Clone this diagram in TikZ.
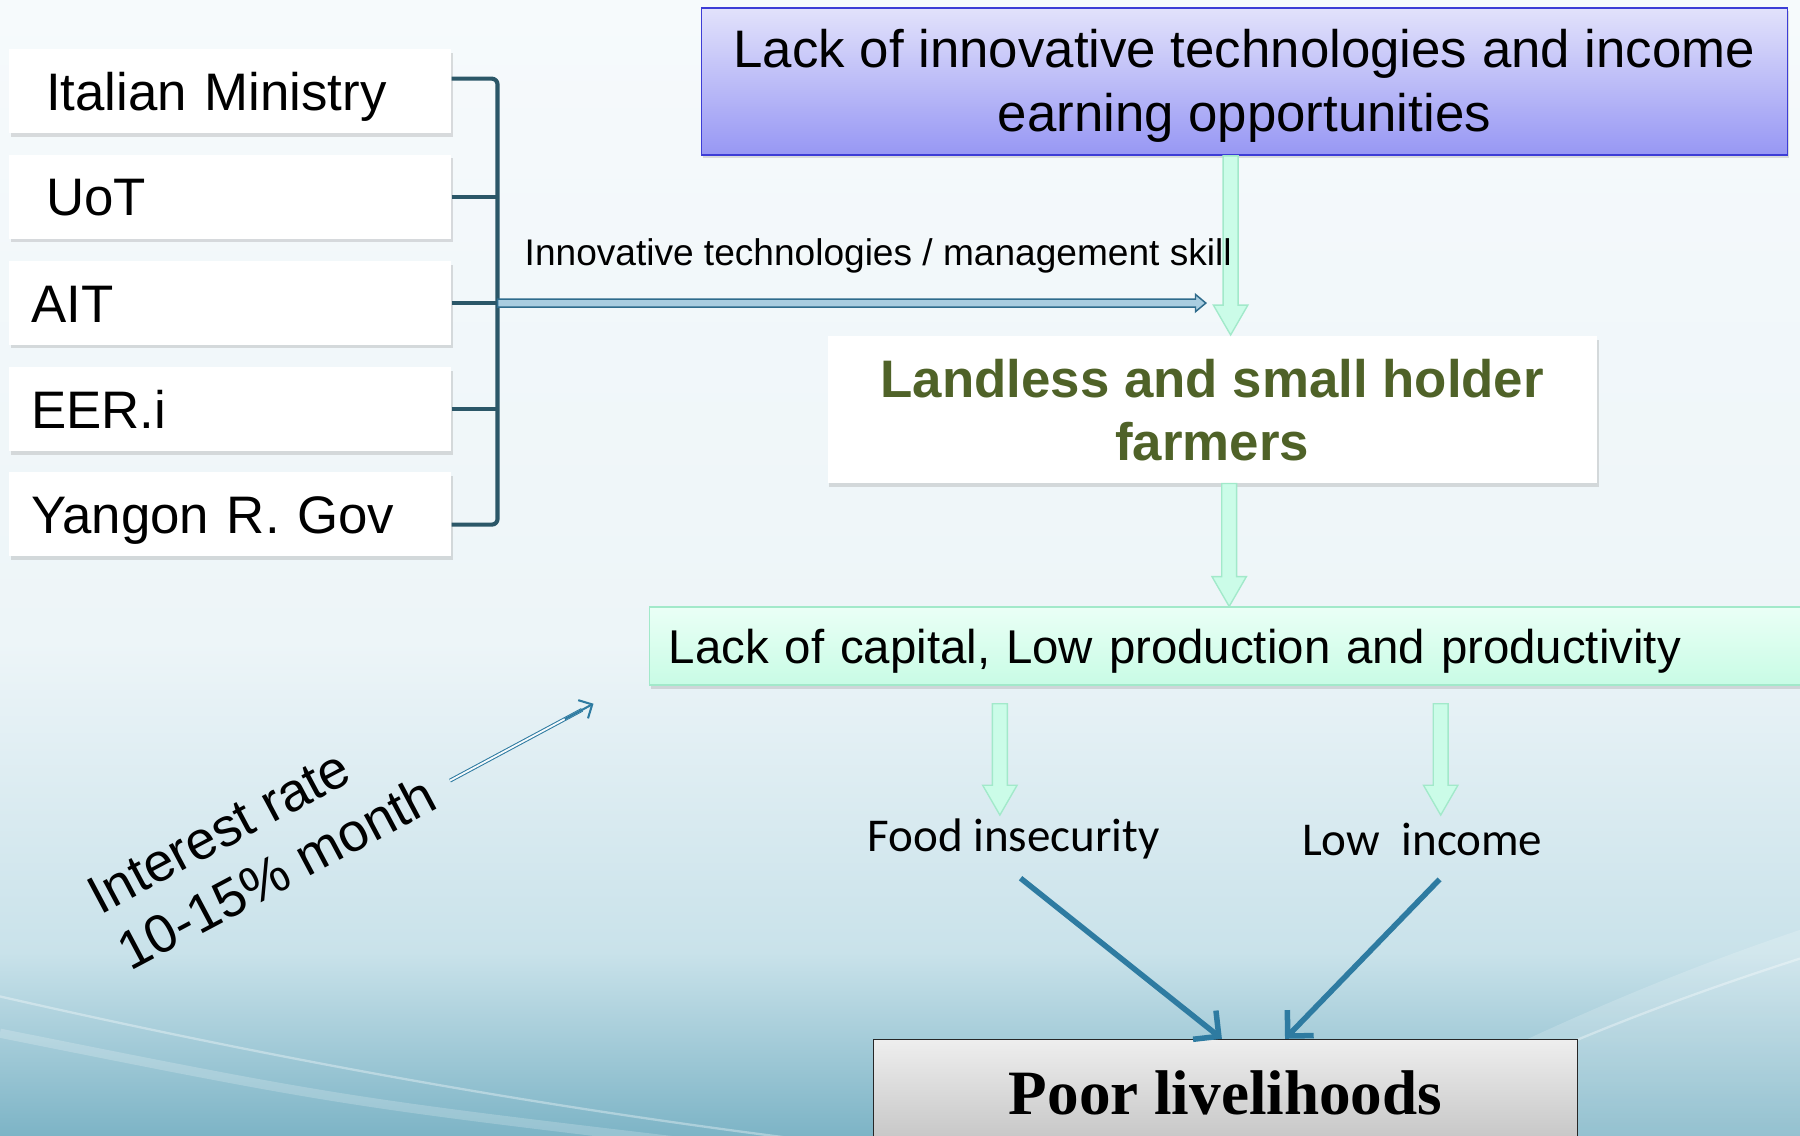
\documentclass[tikz,border=0pt]{standalone}
\usepackage{fontspec}
\setmainfont{Liberation Sans}
\newfontfamily\timesb{Liberation Serif}
\newfontfamily\calib{Carlito}
\usetikzlibrary{arrows.meta,calc,shadows}

\definecolor{bgA}{HTML}{F6FAFC}
\definecolor{bgB}{HTML}{EDF5F8}
\definecolor{bgC}{HTML}{C9E2EA}
\definecolor{bgD}{HTML}{7DB4C6}
\definecolor{lavT}{HTML}{E2E2FB}
\definecolor{lavB}{HTML}{9797F4}
\definecolor{lavD}{HTML}{3D3DD6}
\definecolor{mintT}{HTML}{EAFFF6}
\definecolor{mintB}{HTML}{C8FCE5}
\definecolor{mintD}{HTML}{A2E9CA}
\definecolor{mintF}{HTML}{CBFCE8}
\definecolor{brk}{HTML}{2B5768}
\definecolor{dblD}{HTML}{2F6C8C}
\definecolor{dblL}{HTML}{A9CDE0}
\definecolor{arrB}{HTML}{2E7BA1}
\definecolor{olive}{HTML}{4F6228}
\definecolor{grT}{HTML}{EEEEEE}
\definecolor{grB}{HTML}{C4C4C4}

\newcommand\vblk[2]{\draw[mintarrow] let \p1=(#1), \p2=(#2) in
  (\x1-6.5pt,\y1) -- (\x1+6.5pt,\y1) -- (\x1+6.5pt,\y2+26pt) -- (\x1+15pt,\y2+26pt)
  -- (\x1,\y2) -- (\x1-15pt,\y2+26pt) -- (\x1-6.5pt,\y2+26pt) -- cycle;}
\newcommand\hblk[2]{\draw[dblarrow] let \p1=(#1), \p2=(#2) in
  (\x1,\y1+3.5pt) -- (\x2-9pt,\y1+3.5pt) -- (\x2-9pt,\y1+7.5pt) -- (\x2,\y1)
  -- (\x2-9pt,\y1-7.5pt) -- (\x2-9pt,\y1-3.5pt) -- (\x1,\y1-3.5pt) -- cycle;}

\begin{document}
\begin{tikzpicture}[x=1pt,y=-1pt,
  softshadow/.style={drop shadow={shadow xshift=1.5pt,shadow yshift=-3pt,opacity=.28,fill=black!45}},
  lbox/.style={fill=white, softshadow, minimum width=385pt, minimum height=73pt, anchor=west,
    inner xsep=19pt, text width=347pt, align=left, text height=33pt, text depth=0pt,
    font=\fontsize{46}{54}\selectfont},
  topbox/.style={draw=lavD, line width=1.5pt, top color=lavT, bottom color=lavB, softshadow,
    minimum width=946pt, minimum height=128pt},
  toptext/.style={align=center, font=\fontsize{46}{56}\selectfont},
  lnd/.style={fill=white, softshadow, minimum width=670pt, minimum height=128pt, align=center,
    text=olive, font=\bfseries\fontsize{46}{55}\selectfont},
  capbox/.style={draw=mintD, line width=1.5pt, top color=mintT, bottom color=mintB, softshadow,
    minimum height=68pt, text width=976pt, inner xsep=17pt, align=left, anchor=west,
    text height=30pt, text depth=0pt, font=\fontsize{41.3}{50}\selectfont},
  poorbox/.style={draw=black!85, line width=1.2pt, top color=grT, bottom color=grB,
    minimum width=613pt, minimum height=93pt, font=\timesb\bfseries\fontsize{55}{60}\selectfont},
  bracket/.style={draw=brk, line width=3.6pt, rounded corners=5pt},
  mintarrow/.style={fill=mintF, draw=mintD, line width=1.2pt},
  dblarrow/.style={fill=dblL, draw=dblD, line width=1.3pt},
  thkarrow/.style={draw=arrB, line width=4.8pt, -{Straight Barb[length=16pt,width=32pt]}},
  thindbl/.style={draw=arrB, line width=0.9pt, double=bgA, double distance=1.6pt},
  thinhead/.style={draw=arrB, line width=1.8pt, -{Straight Barb[length=9pt,width=18pt]}},
  lbl/.style={font=\fontsize{32.3}{38}\selectfont},
  cal/.style={font=\calib\fontsize{41}{48}\selectfont}
]
\useasboundingbox (0,0) rectangle (1568,989);
% background
\fill[top color=bgA, bottom color=bgB] (0,0) rectangle (1568,560);
\fill[top color=bgB, bottom color=bgC] (0,559.5) rectangle (1568,830);
\fill[top color=bgC, bottom color=bgD] (0,829.5) rectangle (1568,989);
\draw[white, opacity=.35, line width=2pt] (0,868) .. controls (250,925) and (500,970) .. (760,1000);
\draw[white, opacity=.2, line width=8pt] (0,900) .. controls (300,960) .. (640,1000);
\fill[white, opacity=.18] (1150,995) .. controls (1330,900) and (1450,850) .. (1568,810) -- (1568,995) -- cycle;
\draw[white, opacity=.35, line width=2pt] (1180,995) .. controls (1350,910) and (1460,870) .. (1568,835);

% left boxes
\node[lbox] (it) at (8,79.5) {\hspace*{13pt}Italian Ministry};
\node[lbox] (uot) at (8,171.5) {\hspace*{13pt}UoT};
\node[lbox] (ait) at (8,264) {AIT};
\node[lbox] (eer) at (8,356.5) {EER.i};
\node[lbox] (ygn) at (8,448) {Yangon R. Gov};

% bracket
\coordinate (bt) at ($(it.east)+(40,-11)$);
\coordinate (bb) at ($(ygn.east)+(40,9)$);
\draw[bracket] ($(it.east)+(0,-11)$) -- (bt) -- (bb) -- ($(ygn.east)+(0,9)$);
\draw[bracket, rounded corners=0pt] (uot.east) -- (uot.east -| bt);
\draw[bracket, rounded corners=0pt] (ait.east) -- (ait.east -| bt);
\draw[bracket, rounded corners=0pt] (eer.east) -- (eer.east -| bt);

% top and middle boxes
\node[topbox] (top) at (1084,71) {};
\node[toptext] (toptxt) at (1084,75) {Lack of innovative technologies and income\\earning opportunities};
\node[lnd] (land) at (1056,357) {Landless and small holder\\farmers};
\node[capbox] (cap) at (565,563) {Lack of capital, Low production and productivity};
\node[poorbox] (poor) at (1067.5,952) {Poor livelihoods};

% mint arrows
\vblk{$(top.south)+(-12,0)$}{$(land.north)+(16,-1)$}
\vblk{$(land.south -| cap.north)$}{cap.north}
\coordinate (fs) at (871,613);
\coordinate (ft) at (871,710);
\coordinate (ls) at (1255,613);
\coordinate (lt) at (1255,710);
\vblk{fs}{ft}
\vblk{ls}{lt}

% horizontal double arrow
\coordinate (dstart) at (ait.east -| bt);
\coordinate (dend) at ($(dstart)+(617,0)$);
\hblk{dstart}{dend}
\node[lbl] (innov) at (765,223) {Innovative technologies / management skill};

\node[cal] (food) at (883,731) {Food insecurity};
\node[cal] (low) at (1239,731) {Low~~income};

% thick arrows
\coordinate (fa) at (889,765);
\coordinate (la) at (1254,766);
\draw[thkarrow] (fa) -- ($(poor.north west)+(304,0)$);
\draw[thkarrow] (la) -- ($(poor.north west)+(359,0)$);

% interest rate
\node[rotate=28, align=left, font=\fontsize{47}{56}\selectfont] (rate) at (228,736) {Interest rate\\10-15\% month};
\coordinate (ia) at (392,680);
\coordinate (ib) at (517,613);
\draw[thindbl] (ia) -- ($(ia)!0.92!(ib)$);
\draw[thinhead] ($(ia)!0.8!(ib)$) -- (ib);
\end{tikzpicture}
\end{document}
